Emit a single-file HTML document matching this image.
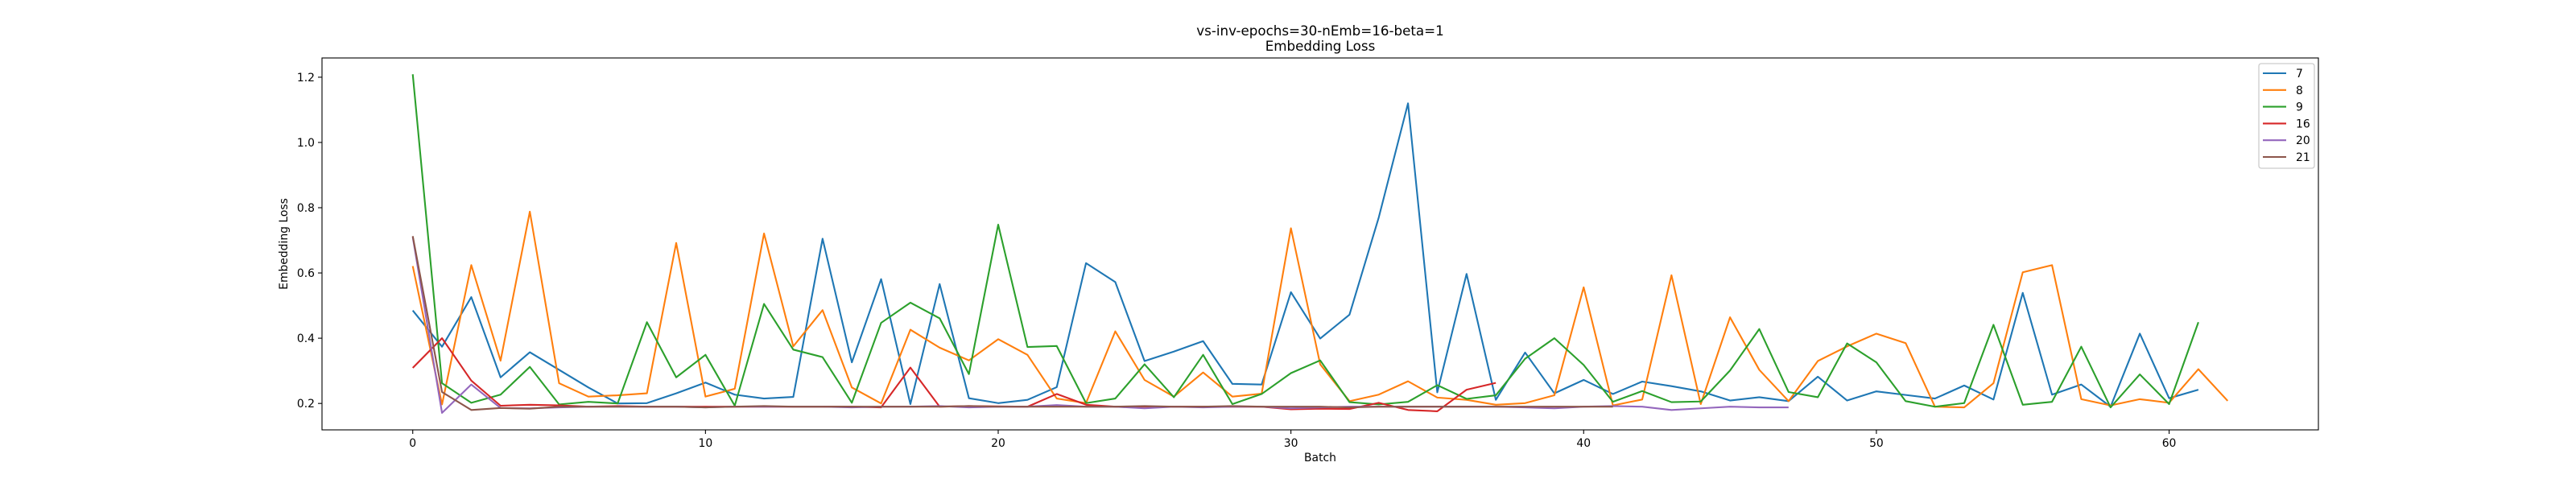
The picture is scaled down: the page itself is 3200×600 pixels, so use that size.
<!DOCTYPE html>
<html><head><meta charset="utf-8"><style>
html,body{margin:0;padding:0;background:#fff;}
svg{display:block;font-family:"DejaVu Sans","Liberation Sans",sans-serif;}
</style></head><body>
<svg id="chart" width="3200" height="600" xmlns="http://www.w3.org/2000/svg">
<rect width="3200" height="600" fill="#fff"/>
<text x="1640" y="44" font-size="16.7" text-anchor="middle">vs-inv-epochs=30-nEmb=16-beta=1</text>
<text x="1640" y="63" font-size="16.7" text-anchor="middle">Embedding Loss</text>
<g id="plot"></g>
<text x="1640" y="573" font-size="13.9" text-anchor="middle">Batch</text>
<text x="0" y="0" font-size="13.9" text-anchor="middle" transform="translate(357,303) rotate(-90)">Embedding Loss</text>
</svg>
<script>
const seriesNames = ["7","8","9","16","20","21"];
const seriesColors = ["#1f77b4","#ff7f0e","#2ca02c","#d62728","#9467bd","#8c564b"];
const s7 = [0.485,0.374,0.526,0.280,0.357,0.303,0.249,0.200,0.201,0.231,0.264,0.227,0.215,0.220,0.705,0.326,0.581,0.198,0.566,0.216,0.201,0.211,0.250,0.630,0.572,0.330,0.359,0.391,0.260,0.258,0.541,0.399,0.472,0.770,1.120,0.234,0.597,0.211,0.356,0.231,0.272,0.229,0.267,0.253,0.237,0.209,0.219,0.207,0.282,0.209,0.237,0.226,0.215,0.255,0.212,0.539,0.227,0.258,0.190,0.414,0.216,0.242];
const s8 = [0.621,0.197,0.624,0.331,0.788,0.262,0.221,0.225,0.231,0.692,0.221,0.245,0.721,0.375,0.486,0.249,0.200,0.426,0.371,0.332,0.397,0.349,0.215,0.201,0.421,0.272,0.221,0.295,0.221,0.230,0.737,0.320,0.207,0.227,0.268,0.218,0.211,0.196,0.201,0.225,0.556,0.194,0.212,0.593,0.198,0.464,0.303,0.207,0.330,0.375,0.414,0.385,0.190,0.188,0.262,0.602,0.624,0.213,0.194,0.213,0.202,0.305,0.208];
const s9 = [1.209,0.262,0.202,0.227,0.312,0.197,0.205,0.200,0.449,0.280,0.349,0.193,0.505,0.365,0.342,0.202,0.447,0.509,0.461,0.290,0.748,0.373,0.376,0.201,0.215,0.320,0.219,0.349,0.198,0.229,0.293,0.332,0.204,0.197,0.205,0.256,0.214,0.225,0.337,0.400,0.318,0.205,0.238,0.204,0.206,0.301,0.428,0.235,0.219,0.384,0.326,0.207,0.190,0.201,0.441,0.196,0.205,0.374,0.188,0.289,0.198,0.449];
const s16 = [0.309,0.400,0.270,0.193,0.196,0.194,0.190,0.192,0.190,0.190,0.190,0.190,0.190,0.190,0.190,0.190,0.188,0.310,0.190,0.192,0.191,0.190,0.229,0.196,0.190,0.190,0.190,0.190,0.190,0.190,0.182,0.184,0.183,0.202,0.180,0.176,0.242,0.263];
const s20 = [0.710,0.171,0.258,0.186,0.185,0.188,0.190,0.190,0.190,0.190,0.188,0.190,0.190,0.190,0.190,0.188,0.190,0.190,0.192,0.188,0.190,0.190,0.195,0.190,0.190,0.185,0.190,0.188,0.190,0.190,0.185,0.188,0.190,0.190,0.190,0.190,0.190,0.190,0.188,0.185,0.190,0.192,0.190,0.180,0.185,0.190,0.188,0.188];
const s21 = [0.713,0.235,0.180,0.186,0.184,0.190,0.190,0.190,0.190,0.190,0.188,0.190,0.192,0.190,0.190,0.190,0.190,0.190,0.190,0.192,0.190,0.190,0.190,0.190,0.190,0.192,0.190,0.190,0.192,0.190,0.190,0.190,0.188,0.190,0.190,0.190,0.190,0.190,0.190,0.190,0.190,0.190];
const xTicks = [0,10,20,30,40,50,60];
const yTicks = [0.2,0.4,0.6,0.8,1.0,1.2];
const yTickLabels = ["0.2","0.4","0.6","0.8","1.0","1.2"];

const L=400,R=2880,T=72,B=534;
const xMin=-3.1,xMax=65.1,yMin=0.119,yMax=1.259;
function xs(v){return L+(v-xMin)/(xMax-xMin)*(R-L);}
function ys(v){return B-(v-yMin)/(yMax-yMin)*(B-T);}
const NS="http://www.w3.org/2000/svg";
const g=document.getElementById('plot');
function mk(tag,attrs,parent){const e=document.createElementNS(NS,tag);for(const k in attrs)e.setAttribute(k,attrs[k]);(parent||g).appendChild(e);return e;}

const clip=mk('clipPath',{id:'clipA'});mk('rect',{x:L,y:T,width:R-L,height:B-T},clip);
const all=[s7,s8,s9,s16,s20,s21];
all.forEach((s,k)=>{
  const pts=s.map((v,i)=>xs(i).toFixed(2)+','+ys(v).toFixed(2)).join(' ');
  const p=mk('polyline',{points:pts,fill:'none',stroke:seriesColors[k],'stroke-width':'2.1','stroke-linejoin':'round','clip-path':'url(#clipA)'});
  
  
});
const frame=mk('rect',{x:L,y:T,width:R-L,height:B-T,fill:'none',stroke:'#000','stroke-width':'1.1'});


xTicks.forEach(t=>{
  const x=xs(t);
  const ln=mk('line',{x1:x,x2:x,y1:B,y2:B+5,stroke:'#000','stroke-width':'1.1'});
  
  
  const tx=mk('text',{x:x,y:B+21,'font-size':'13.9','text-anchor':'middle'});tx.textContent=String(t);
  
  
});
yTicks.forEach((t,i)=>{
  const y=ys(t);
  const ln=mk('line',{x1:L-5,x2:L,y1:y,y2:y,stroke:'#000','stroke-width':'1.1'});
  
  
  const tx=mk('text',{x:L-9,y:y+5,'font-size':'13.9','text-anchor':'end'});tx.textContent=yTickLabels[i];
  
  
});
const lg=mk('g',{});


mk('rect',{x:2806,y:79,width:69,height:130,rx:3,fill:'#fff','fill-opacity':'0.8',stroke:'#ccc','stroke-width':'1.3'},lg);
seriesNames.forEach((n,k)=>{
  const y=91+k*20.8;
  const e=mk('g',{},lg);
  
  
  mk('line',{x1:2811,x2:2840,y1:y,y2:y,stroke:seriesColors[k],'stroke-width':'2.1'},e);
  const t=mk('text',{x:2852,y:y+5,'font-size':'13.9'},e);t.textContent=n;
});
</script>
</body></html>
